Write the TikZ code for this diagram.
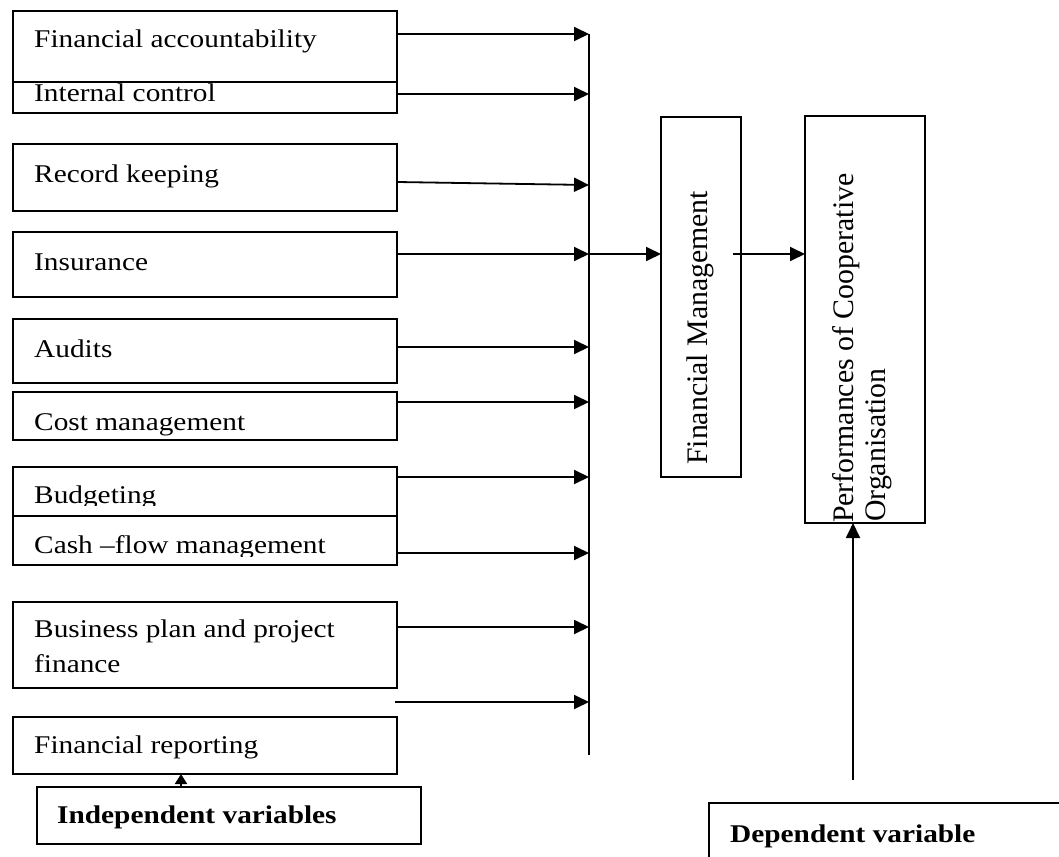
\documentclass[tikz,border=0pt]{standalone}
\usepackage{fontspec}
\setmainfont{Liberation Serif}
\usetikzlibrary{arrows.meta}
\newcommand{\wtxt}[1]{\scalebox{1.15}[1]{#1}}
\begin{document}
\begin{tikzpicture}[x=1pt,y=-1pt,
  box/.style={draw, line width=1.4pt, inner sep=0pt, outer sep=0pt, anchor=north west},
  lbl/.style={anchor=base west, inner sep=0pt, font=\fontsize{25.5}{30}\selectfont},
  blbl/.style={anchor=base west, inner sep=0pt, font=\fontsize{25.5}{30}\selectfont\bfseries},
  vlbl/.style={anchor=base west, inner sep=0pt, rotate=90, font=\fontsize{29.8}{34}\selectfont},
  conn/.style={line width=1.8pt, -{Triangle[length=15pt,width=14pt]}},
  bus/.style={line width=1.5pt},
]
\useasboundingbox (0,0) rectangle (1059,856);
\clip (0,0) rectangle (1059,856);

% left boxes
\node[box, minimum width=384pt, minimum height=71pt] (b1) at (13,11) {};
\node[box, minimum width=384pt, minimum height=31pt] (b2) at (13,82) {};
\node[box, minimum width=384pt, minimum height=67pt] (b3) at (13,144) {};
\node[box, minimum width=384pt, minimum height=65pt] (b4) at (13,232) {};
\node[box, minimum width=384pt, minimum height=64pt] (b5) at (13,319) {};
\node[box, minimum width=384pt, minimum height=48pt] (b6) at (13,392) {};
\node[box, minimum width=384pt, minimum height=49pt] (b7) at (13,467) {};
\node[box, minimum width=384pt, minimum height=49pt] (b8) at (13,516) {};
\node[box, minimum width=384pt, minimum height=86pt] (b9) at (13,602) {};
\node[box, minimum width=384pt, minimum height=57pt] (b10) at (13,717) {};
\node[box, minimum width=384pt, minimum height=57pt] (indep) at (37,787) {};

% right boxes
\node[box, minimum width=80pt, minimum height=360pt] (fm) at (661,117) {};
\node[box, minimum width=120pt, minimum height=407pt] (perf) at (805,116) {};
\node[box, minimum width=400pt, minimum height=120pt] (dep) at (709,803) {};

% labels
\node[lbl] (l1) at (34,48) {\wtxt{Financial accountability}};
\node[lbl] (l2) at (34,102) {\wtxt{Internal control}};
\node[lbl] (l3) at (34,182) {\wtxt{Record keeping}};
\node[lbl] (l4) at (34,270) {\wtxt{Insurance}};
\node[lbl] (l5) at (34,357) {\wtxt{Audits}};
\begin{scope}
  \clip (13,392) rectangle (397,436);
  \node[lbl] (l6) at (34,430) {\wtxt{Cost management}};
\end{scope}
\begin{scope}
  \clip (13,467) rectangle (397,505.5);
  \node[lbl] (l7) at (34,503) {\wtxt{Budgeting}};
\end{scope}
\begin{scope}
  \clip (13,516) rectangle (397,556);
  \node[lbl] (l8) at (34,553) {\wtxt{Cash –flow management}};
\end{scope}
\node[lbl] (l9a) at (34,637) {\wtxt{Business plan and project}};
\node[lbl] (l9b) at (34,672) {\wtxt{finance}};
\node[lbl] (l10) at (34,753) {\wtxt{Financial reporting}};
\node[blbl] (lind) at (57,823) {\wtxt{Independent variables}};
\node[blbl] (ldep) at (730,842) {\wtxt{Dependent variable}};

\node[vlbl] (lfm) at (707,465) {Financial Management};
\node[vlbl] (lpa) at (853,523) {Performances of Cooperative};
\node[vlbl] (lpb) at (885,522) {Organisation};

% bus line
\coordinate (busT) at (589,34);
\coordinate (busB) at (589,755);
\draw[bus] (busT) -- (busB);

% arrows into bus
\coordinate (t1) at (589,34);
\coordinate (t2) at (589,94);
\coordinate (s3) at (397,182);
\coordinate (t3) at (589,185);
\coordinate (t4) at (589,254);
\coordinate (t5) at (589,347);
\coordinate (t6) at (589,402);
\coordinate (t7) at (589,477);
\coordinate (t8) at (589,553);
\coordinate (t9) at (589,627);
\coordinate (fa) at (395,702);

\draw[conn] (b1.east |- t1) -- (t1);
\draw[conn] (b2.east |- t2) -- (t2);
\draw[conn] (s3) -- (t3);
\draw[conn] (b4.east |- t4) -- (t4);
\draw[conn] (b5.east |- t5) -- (t5);
\draw[conn] (b6.east |- t6) -- (t6);
\draw[conn] (b7.east |- t7) -- (t7);
\draw[conn] (b8.east |- t8) -- (t8);
\draw[conn] (b9.east |- t9) -- (t9);
\draw[conn] (fa) -- (busT |- fa);

% bus to financial management
\draw[conn] (t4) -- (fm.west |- t4);
\coordinate (fmout) at (733,254);
\draw[conn] (fmout) -- (perf.west |- fmout);

% dependent arrow
\coordinate (depup) at (853,780);
\draw[conn] (depup) -- (perf.south -| depup);

% independent arrow
\coordinate (ia) at (181,787);
\draw[line width=1.8pt, -{Triangle[length=10pt,width=12pt]}] (ia) -- (b10.south -| ia);
\end{tikzpicture}
\end{document}
